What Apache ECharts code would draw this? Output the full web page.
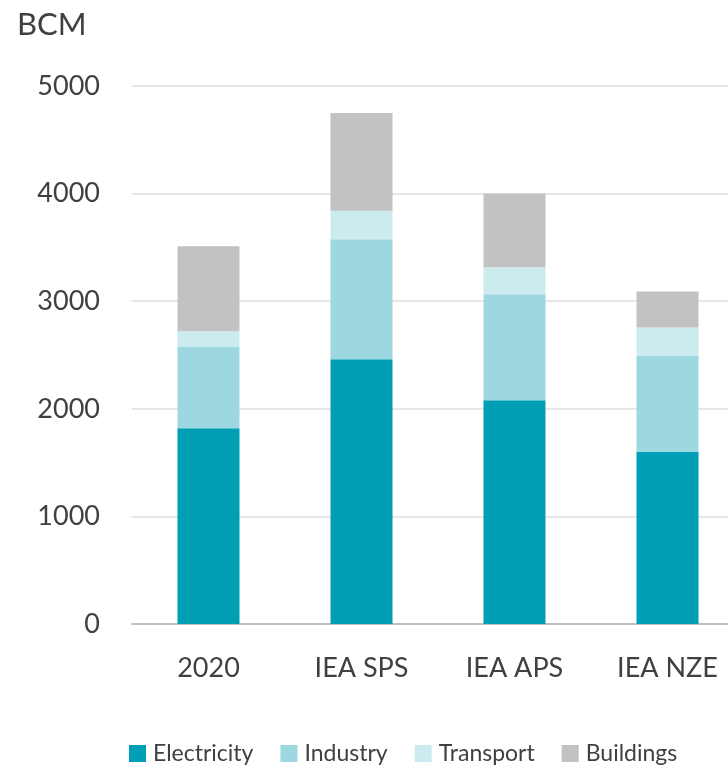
<!DOCTYPE html>
<html>
<head>
<meta charset="utf-8">
<script src="https://cdn.jsdelivr.net/npm/echarts@6/dist/echarts.min.js"></script>
<style>
  html, body { margin: 0; padding: 0; background: #fff; }
  #chart { width: 728px; height: 768px; }
</style>
</head>
<body>
<div id="chart"></div>
<script>
// gas demand by sector, BCM
var categories = ['2020', 'IEA SPS', 'IEA APS', 'IEA NZE'];
var electricity = [1820, 2460, 2080, 1600];
var industry = [760, 1115, 985, 895];
var transport = [140, 265, 250, 260];
var buildings = [790, 910, 685, 335];
var yTicks = [0, 1000, 2000, 3000, 4000, 5000];

var font = 'Lato, "Liberation Sans", sans-serif';
var textColor = '#404040';

var chart = echarts.init(document.getElementById('chart'));

function stackSeries(name, data, color) {
    return {
        name: name,
        type: 'bar',
        stack: 'total',
        barWidth: 62,
        data: data,
        itemStyle: { color: color },
        emphasis: { disabled: true }
    };
}

var option = {
    animation: false,
    title: {
        text: 'BCM',
        left: 12,
        top: 4,
        textStyle: { fontFamily: font, fontSize: 31, fontWeight: 'normal', color: textColor }
    },
    grid: {
        left: 132,
        top: 86,
        right: -16,
        bottom: 144,
        outerBoundsMode: 'none'
    },
    legend: {
        left: 124,
        top: 737,
        itemWidth: 17,
        itemHeight: 17,
        itemGap: 27,
        icon: 'rect',
        textStyle: { fontFamily: font, fontSize: 23, color: textColor, padding: [0, 0, 0, 2] },
        data: ['Electricity', 'Industry', 'Transport', 'Buildings']
    },
    xAxis: {
        type: 'category',
        data: categories,
        axisLine: { lineStyle: { color: '#BFBFBF', width: 2 } },
        axisTick: { show: false },
        axisLabel: { fontFamily: font, fontSize: 27, color: textColor, margin: 31 }
    },
    yAxis: {
        type: 'value',
        min: yTicks[0],
        max: yTicks[yTicks.length - 1],
        interval: 1000,
        axisLine: { show: false },
        axisTick: { show: false },
        splitLine: { lineStyle: { color: '#E6E6E6', width: 2 } },
        axisLabel: {
            fontFamily: font, fontSize: 27, color: textColor, margin: 32,
            formatter: function (v) { return String(v); }
        }
    },
    series: [
        stackSeries('Electricity', electricity, '#009FB5'),
        stackSeries('Industry', industry, '#9DD8E0'),
        stackSeries('Transport', transport, '#CCEBEE'),
        stackSeries('Buildings', buildings, '#C2C2C2')
    ]
};

chart.setOption(option);
</script>
</body>
</html>
